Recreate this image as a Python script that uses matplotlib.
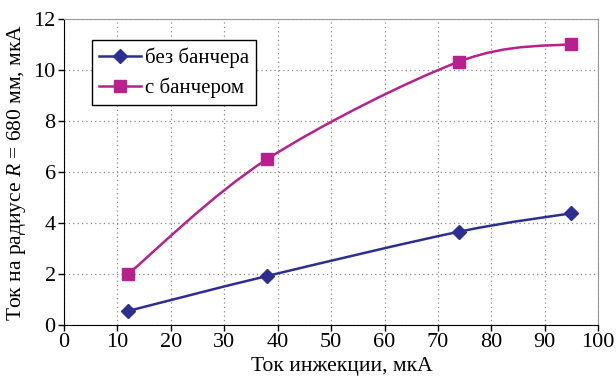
import matplotlib
matplotlib.use('Agg')
import matplotlib.pyplot as plt
from matplotlib.path import Path
from matplotlib.patches import PathPatch
from matplotlib.lines import Line2D

plt.rcParams['font.family'] = 'Liberation Serif'
plt.rcParams['mathtext.fontset'] = 'custom'
plt.rcParams['mathtext.rm'] = 'Liberation Serif'
plt.rcParams['mathtext.it'] = 'Liberation Serif:italic'

# Data
injection = [12, 38, 74, 95]
no_buncher = [0.55, 1.92, 3.66, 4.38]
with_buncher = [2.0, 6.5, 10.33, 11.02]

blue = '#2b2f8f'
magenta = '#b5218d'


def smooth_path(xs, ys):
    # Excel-style smoothed line: Bezier segments with Catmull-Rom control points
    pts = list(zip(xs, ys))
    verts = [pts[0]]
    codes = [Path.MOVETO]
    for i in range(len(pts) - 1):
        p0 = pts[i - 1] if i > 0 else pts[i]
        p1 = pts[i]
        p2 = pts[i + 1]
        p3 = pts[i + 2] if i + 2 < len(pts) else pts[i + 1]
        c1 = (p1[0] + (p2[0] - p0[0]) / 6, p1[1] + (p2[1] - p0[1]) / 6)
        c2 = (p2[0] - (p3[0] - p1[0]) / 6, p2[1] - (p3[1] - p1[1]) / 6)
        verts += [c1, c2, p2]
        codes += [Path.CURVE4] * 3
    return Path(verts, codes)


fig = plt.figure(figsize=(6.16, 3.79), dpi=100)
ax = fig.add_axes([0.104, 0.1425, 0.867, 0.8075])

for ys, color, marker, size in [(no_buncher, blue, 'D', 7), (with_buncher, magenta, 's', 9)]:
    ax.add_patch(PathPatch(smooth_path(injection, ys), fill=False, edgecolor=color, lw=1.8, zorder=3))
    ax.plot(injection, ys, linestyle='none', marker=marker, markersize=size, color=color, zorder=4)

ax.set_xlim(0, 100)
ax.set_ylim(0, 12)
ax.set_xticks(range(0, 101, 10))
ax.set_yticks(range(0, 13, 2))
ax.grid(True, linestyle=(0, (1, 2.5)), color='#888888', linewidth=0.9)
ax.tick_params(labelsize=16, direction='out', length=4, width=1, pad=2)

ax.spines['top'].set_color('#999999')
ax.spines['right'].set_color('#999999')

ax.set_xlabel('Ток инжекции, мкА', fontsize=15.5)
ax.xaxis.set_label_coords(0.52, -0.105)
ax.set_ylabel('Ток на радиусе $R$ = 680 мм, мкА', fontsize=15.5, labelpad=4)

handles = [
    Line2D([], [], color=blue, marker='D', markersize=7, lw=1.8),
    Line2D([], [], color=magenta, marker='s', markersize=9, lw=1.8),
]
leg = ax.legend(handles, ['без банчера', 'с банчером'], loc='upper left',
                bbox_to_anchor=(0.052, 0.93), borderaxespad=0, fontsize=15,
                fancybox=False, framealpha=1, edgecolor='black',
                handlelength=2.0, handletextpad=0.2, borderpad=0.35,
                labelspacing=0.45)
leg.get_frame().set_linewidth(1)

fig.savefig('out.png', dpi=100)
